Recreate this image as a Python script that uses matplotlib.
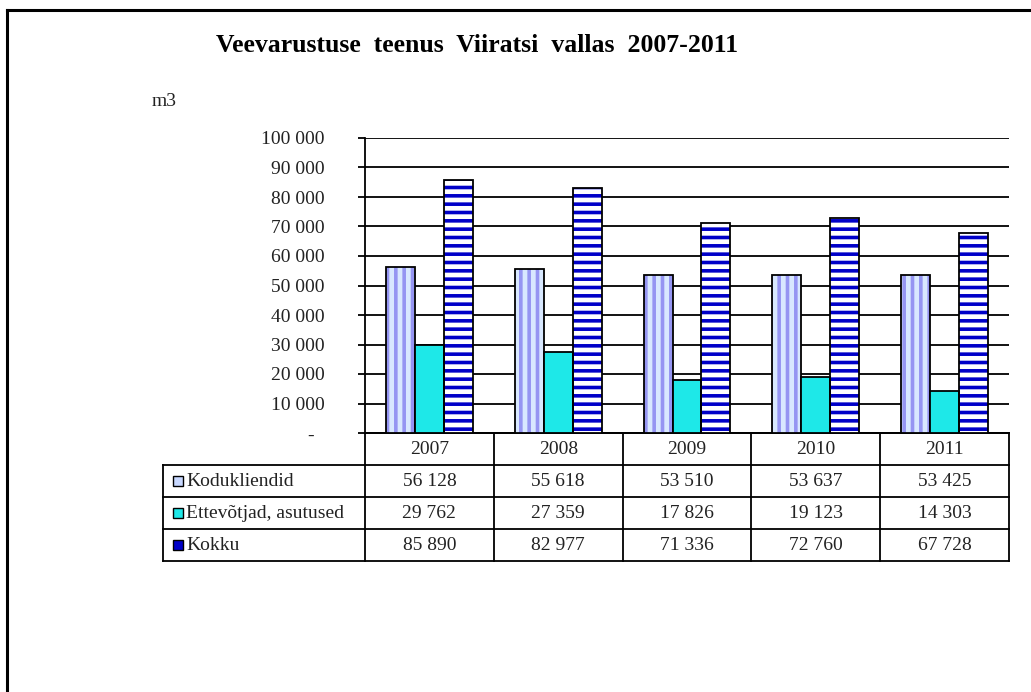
import numpy as np
import matplotlib.pyplot as plt
from matplotlib.patches import Rectangle
from matplotlib.lines import Line2D

years = ['2007', '2008', '2009', '2010', '2011']
kodukliendid = [56128, 55618, 53510, 53637, 53425]
ettevotjad = [29762, 27359, 17826, 19123, 14303]
kokku = [85890, 82977, 71336, 72760, 67728]
series_names = ['Kodukliendid', 'Ettevõtjad, asutused', 'Kokku']
yticks = np.arange(0, 100001, 10000)


def fmt(v):
    return f'{v:,}'.replace(',', ' ')


ytick_labels = ['-  '] + [fmt(v) for v in yticks[1:]]

plt.rcParams['font.family'] = ['Liberation Serif', 'DejaVu Serif']
plt.rcParams['hatch.linewidth'] = 2.6

W, H = 1031, 692
fig = plt.figure(figsize=(W / 100, H / 100), dpi=100)
ax = fig.add_axes([365 / W, 1 - 433 / H, 644 / W, 295 / H])

x = np.arange(len(years))
w = 0.225
lw = 1.3

# Kodukliendid - light blue, vertical stripes
ax.bar(x - w, kodukliendid, w, color='#D8E8FF', edgecolor='#9595F2', hatch='||', lw=0, zorder=3)
ax.bar(x - w, kodukliendid, w, fill=False, edgecolor='black', lw=lw, zorder=4)
# Ettevotjad - cyan
ax.bar(x, ettevotjad, w, color='#1EE8E8', edgecolor='black', lw=lw, zorder=4)
# Kokku - white with dark blue horizontal stripes
ax.bar(x + w, kokku, w, color='white', edgecolor='#0000C8', hatch='--', lw=0, zorder=3)
ax.bar(x + w, kokku, w, fill=False, edgecolor='black', lw=lw, zorder=4)

ax.set_xlim(-0.5, len(years) - 0.5)
ax.set_ylim(0, 100000)
ax.set_yticks(yticks)
ax.set_yticklabels(ytick_labels, fontsize=14, color='#222222')
ax.set_xticks([])
ax.yaxis.grid(True, color='black', lw=1.3, zorder=1)
ax.set_axisbelow(True)
ax.tick_params(axis='y', direction='out', length=5, width=1.3, pad=24)
for s in ['top', 'right']:
    ax.spines[s].set_visible(False)
ax.spines['left'].set_linewidth(1.3)
ax.spines['bottom'].set_linewidth(1.3)

# data table under the chart
tr = ax.get_xaxis_transform()
col_w = 644 / len(years)
row_h = 32 / 295


def px2x(p):
    return (p - 365) / col_w - 0.5


left = px2x(163)
n_rows = 4
for k in range(n_rows + 1):
    y = -k * row_h
    x0 = -0.5 if k == 0 else left
    ax.add_line(Line2D([x0, len(years) - 0.5], [y, y], transform=tr, clip_on=False,
                       color='black', lw=lw))
for i in range(len(years) + 1):
    ax.add_line(Line2D([i - 0.5, i - 0.5], [0, -n_rows * row_h], transform=tr,
                       clip_on=False, color='black', lw=lw))
ax.add_line(Line2D([left, left], [-row_h, -n_rows * row_h], transform=tr,
                   clip_on=False, color='black', lw=lw))

for i, yr in enumerate(years):
    ax.text(i, -0.5 * row_h, yr, transform=tr, ha='center', va='center',
            fontsize=14, color='#222222')

swatch_fc = ['#C8D8FF', '#1EE8E8', '#0000C8']
for r, (name, vals) in enumerate(zip(series_names, [kodukliendid, ettevotjad, kokku])):
    yc = -(r + 1.5) * row_h
    ax.add_patch(Rectangle((px2x(173), yc - 5 / 295), px2x(183) - px2x(173), 10 / 295,
                           transform=tr, clip_on=False, facecolor=swatch_fc[r],
                           edgecolor='black', lw=1))
    ax.text(px2x(186), yc, name, transform=tr, ha='left', va='center',
            fontsize=14, color='#222222')
    for i, v in enumerate(vals):
        ax.text(i, yc, fmt(v), transform=tr, ha='center', va='center',
                fontsize=14, color='#222222')

fig.text(477 / W, 1 - 45 / H, 'Veevarustuse  teenus  Viiratsi  vallas  2007-2011',
         ha='center', va='center', fontsize=18.5, fontweight='bold')
fig.text(152 / W, 1 - 102 / H, 'm3', ha='left', va='center', fontsize=14, color='#222222')

# outer frame (left and top)
fig.add_artist(Line2D([7 / W, 7 / W], [0, 1 - 10 / H], transform=fig.transFigure,
                      color='black', lw=2.2))
fig.add_artist(Line2D([7 / W, 1], [1 - 10 / H, 1 - 10 / H], transform=fig.transFigure,
                      color='black', lw=2.2))

fig.savefig('out.png', dpi=100)
